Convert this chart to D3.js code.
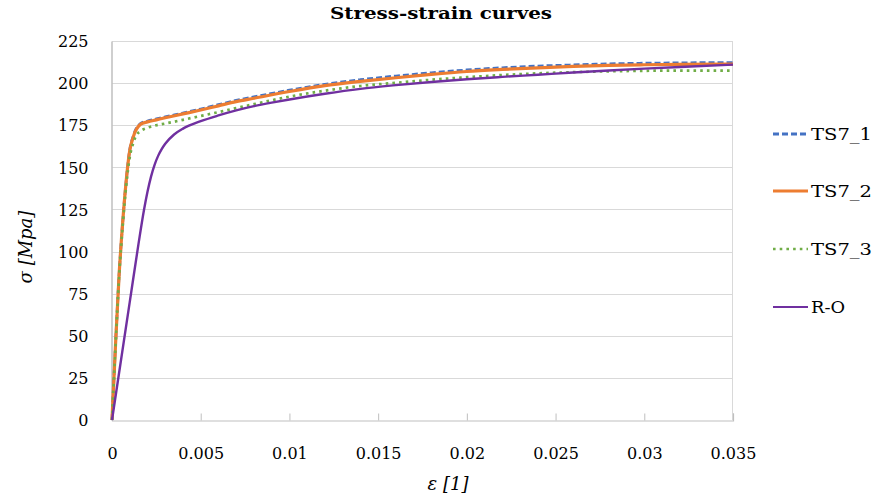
<!DOCTYPE html>
<html>
<head>
<meta charset="utf-8">
<script src="https://cdn.jsdelivr.net/npm/d3@7"></script>
<style>
  html, body { margin: 0; padding: 0; background: #ffffff; }
  svg { display: block; }
</style>
</head>
<body>
<svg id="chart" width="874" height="501"></svg>
<script>
// ---- data ----
const seriesNames = ["TS7_1", "TS7_2", "TS7_3", "R-O"];

const strainTS7_1 = [0, 0.0002, 0.0004, 0.0006, 0.0008, 0.0010, 0.0012, 0.0013, 0.0014, 0.0016, 0.0020, 0.0025, 0.003, 0.004, 0.005, 0.006, 0.007, 0.008, 0.010, 0.012, 0.014, 0.016, 0.018, 0.020, 0.022, 0.024, 0.026, 0.028, 0.030, 0.032, 0.035];
const stressTS7_1 = [0, 45, 86, 117, 142, 160.5, 168.5, 171.5, 173.5, 176, 177.5, 178.7, 179.9, 182.2, 184.6, 187.2, 189.7, 191.8, 195.8, 199.3, 202, 204.2, 206.1, 207.8, 209.1, 210.1, 210.8, 211.4, 211.8, 212, 212.2];

const strainTS7_2 = [0, 0.0002, 0.0004, 0.0006, 0.0008, 0.0010, 0.0012, 0.0013, 0.0014, 0.0016, 0.0020, 0.0025, 0.003, 0.004, 0.005, 0.006, 0.007, 0.008, 0.010, 0.012, 0.014, 0.016, 0.018, 0.020, 0.022, 0.024, 0.026, 0.028, 0.030, 0.032, 0.035];
const stressTS7_2 = [0, 45, 86, 117, 142, 160, 168, 171, 173, 175.5, 177, 178.2, 179.4, 181.7, 184, 186.5, 189, 191, 195, 198.5, 201, 203.2, 205.2, 206.9, 208.1, 209.1, 209.9, 210.5, 210.9, 211.1, 211.3];

const strainTS7_3 = [0, 0.0002, 0.0004, 0.0006, 0.0008, 0.0010, 0.0012, 0.0013, 0.0014, 0.0016, 0.0020, 0.0025, 0.003, 0.004, 0.005, 0.006, 0.007, 0.008, 0.010, 0.012, 0.014, 0.016, 0.018, 0.020, 0.022, 0.024, 0.026, 0.028, 0.030, 0.032, 0.035];
const stressTS7_3 = [0, 44, 85, 115, 139, 156, 164.5, 167.5, 169.5, 171.5, 173.5, 175, 176, 178.2, 180.5, 182.8, 185.2, 187.5, 192, 195.5, 198.3, 200.2, 202, 203.5, 204.8, 205.8, 206.5, 207, 207.3, 207.4, 207.4];

const strainRO = [0, 0.0005, 0.001, 0.0015, 0.0018, 0.002, 0.0022, 0.0024, 0.0026, 0.0028, 0.003, 0.0035, 0.004, 0.005, 0.006, 0.007, 0.008, 0.009, 0.010, 0.012, 0.014, 0.016, 0.018, 0.020, 0.022, 0.024, 0.026, 0.028, 0.030, 0.032, 0.035];
const stressRO = [0, 35, 70, 105, 124.5, 135.5, 144.5, 151.5, 156.8, 160.8, 164, 169.5, 173, 177.4, 180.8, 183.8, 186.3, 188.4, 190.3, 193.7, 196.6, 198.8, 200.7, 202.3, 203.7, 205, 206.3, 207.5, 208.6, 209.6, 211];

const xTicks = [0, 0.005, 0.01, 0.015, 0.02, 0.025, 0.03, 0.035];
const xTickLabels = ["0", "0.005", "0.01", "0.015", "0.02", "0.025", "0.03", "0.035"];
const yTicks = [0, 25, 50, 75, 100, 125, 150, 175, 200, 225];

const titleText = "Stress-strain curves";
const xLabelText = "ε [1]";
const yLabelText = "σ [Mpa]";

// ---- build series ----
const seriesData = [
  { name: seriesNames[0], x: strainTS7_1, y: stressTS7_1, color: "#4472C4", width: 2.8, dash: "6,3" },
  { name: seriesNames[1], x: strainTS7_2, y: stressTS7_2, color: "#ED7D31", width: 3.2, dash: null },
  { name: seriesNames[2], x: strainTS7_3, y: stressTS7_3, color: "#70AD47", width: 2.7, dash: "2.6,4.1" },
  { name: seriesNames[3], x: strainRO, y: stressRO, color: "#7030A0", width: 2.4, dash: null }
];

const svg = d3.select("#chart");
const serif = "'DejaVu Serif', serif";

const x = d3.scaleLinear().domain([0, 0.035]).range([112, 733]);
const y = d3.scaleLinear().domain([0, 225]).range([420, 41]);

// gridlines
svg.append("g").selectAll("line").data(yTicks.filter(d => d > 0)).join("line")
  .attr("x1", x(0)).attr("x2", x(0.035))
  .attr("y1", d => Math.round(y(d)) + 0.5).attr("y2", d => Math.round(y(d)) + 0.5)
  .attr("stroke", "#d9d9d9").attr("stroke-width", 1);

// right border
svg.append("line")
  .attr("x1", x(0.035) - 0.5).attr("x2", x(0.035) - 0.5)
  .attr("y1", y(225)).attr("y2", y(0))
  .attr("stroke", "#d9d9d9").attr("stroke-width", 1);

// x axis
const xAxis = d3.axisBottom(x).tickValues(xTicks).tickSize(-7).tickFormat((d, i) => xTickLabels[i]).tickPadding(0);
const gx = svg.append("g").attr("transform", "translate(0,420.5)").call(xAxis);
gx.select(".domain").attr("stroke", "#bfbfbf").attr("stroke-width", 1.2);
gx.selectAll(".tick line").attr("stroke", "#bfbfbf");
gx.selectAll(".tick text")
  .attr("y", 38).attr("dy", 0)
  .attr("font-family", serif).attr("font-size", 16).attr("fill", "#000");

// y axis
const yAxis = d3.axisLeft(y).tickValues(yTicks).tickSize(0).tickPadding(23);
const gy = svg.append("g").attr("transform", "translate(111.5,0)").call(yAxis);
gy.select(".domain").attr("stroke", "#bfbfbf").attr("stroke-width", 1.5);
gy.selectAll(".tick text")
  .attr("font-family", serif).attr("font-size", 16).attr("fill", "#000").attr("dy", "0.36em");

// lines
const lineGen = d3.line().x(d => x(d[0])).y(d => y(d[1])).curve(d3.curveMonotoneX);
const plot = svg.append("g");
seriesData.forEach(s => {
  const pts = s.x.map((v, i) => [v, s.y[i]]);
  plot.append("path")
    .attr("d", lineGen(pts))
    .attr("fill", "none")
    .attr("stroke", s.color)
    .attr("stroke-width", s.width)
    .attr("stroke-dasharray", s.dash)
    .attr("stroke-linejoin", "round");
});

// title
svg.append("text")
  .attr("x", 441).attr("y", 19)
  .attr("text-anchor", "middle")
  .attr("font-family", serif)
  .attr("font-weight", "bold")
  .attr("font-size", 16)
  .attr("textLength", 222)
  .attr("lengthAdjust", "spacingAndGlyphs")
  .text(titleText);

// axis titles
svg.append("text")
  .attr("x", 448).attr("y", 490)
  .attr("text-anchor", "middle")
  .attr("font-family", serif).attr("font-style", "italic").attr("font-size", 18)
  .text(xLabelText);

svg.append("text")
  .attr("transform", "translate(32,247) rotate(-90)")
  .attr("text-anchor", "middle")
  .attr("font-family", serif).attr("font-style", "italic").attr("font-size", 18)
  .text(yLabelText);

// legend
const legendY = [134, 191, 249, 307];
const legend = svg.append("g");
seriesData.forEach((s, i) => {
  const g = legend.append("g");
  g.append("line")
    .attr("x1", 773).attr("x2", 808)
    .attr("y1", legendY[i]).attr("y2", legendY[i])
    .attr("stroke", s.color)
    .attr("stroke-width", i === 3 ? 2 : s.width)
    .attr("stroke-dasharray", s.dash);
  g.append("text")
    .attr("x", 811).attr("y", legendY[i] + 6)
    .attr("font-family", serif).attr("font-size", 17).attr("fill", "#000")
    .attr("textLength", i === 3 ? 34 : 61)
    .attr("lengthAdjust", "spacingAndGlyphs")
    .text(s.name);
});
</script>
</body>
</html>
